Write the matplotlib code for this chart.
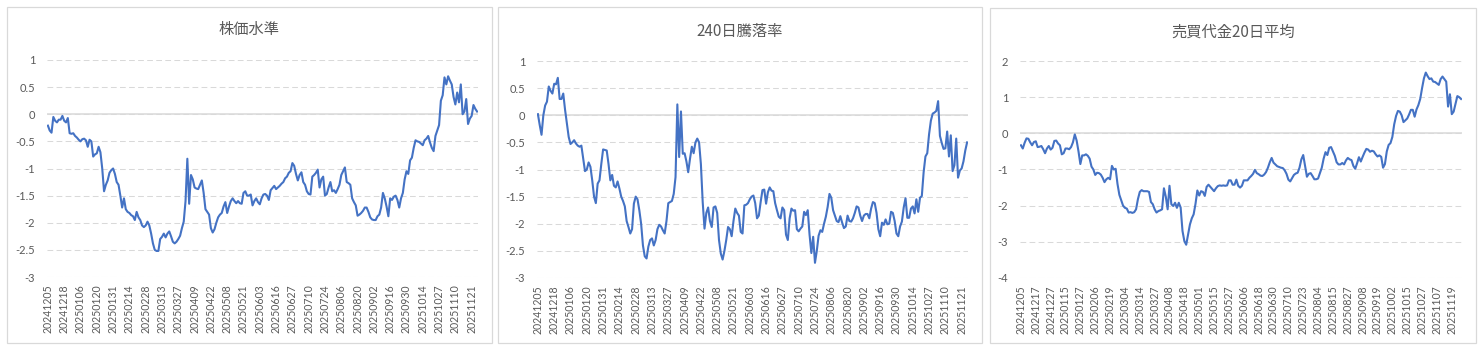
import matplotlib
matplotlib.use("Agg")
import matplotlib.pyplot as plt
from matplotlib.patches import Rectangle
from matplotlib.ticker import FuncFormatter, MultipleLocator

plt.rcParams['font.family'] = ['Lato', 'Noto Sans CJK JP', 'DejaVu Sans']
plt.rcParams['axes.unicode_minus'] = False

# daily values, 20241205 .. 20251127 (238 trading days)
price_level = [
    -0.21, -0.30, -0.34, -0.05, -0.12, -0.15, -0.10, -0.10, -0.03, -0.12,
    -0.15, -0.07, -0.35, -0.36, -0.35, -0.40, -0.43, -0.47, -0.50, -0.46,
    -0.45, -0.48, -0.60, -0.47, -0.50, -0.78, -0.74, -0.72, -0.60, -0.70,
    -1.00, -1.42, -1.30, -1.22, -1.08, -1.03, -1.00, -1.10, -1.25, -1.30,
    -1.50, -1.72, -1.55, -1.75, -1.80, -1.82, -1.86, -1.88, -1.95, -1.80,
    -1.90, -1.95, -2.05, -2.08, -2.05, -1.98, -2.05, -2.20, -2.38, -2.50,
    -2.52, -2.52, -2.30, -2.26, -2.20, -2.27, -2.20, -2.16, -2.25, -2.35,
    -2.38, -2.35, -2.30, -2.24, -2.10, -1.98, -1.60, -0.82, -1.65, -1.12,
    -1.20, -1.35, -1.37, -1.38, -1.30, -1.22, -1.45, -1.75, -1.80, -1.85,
    -2.10, -2.18, -2.12, -2.00, -1.90, -1.85, -1.82, -1.70, -1.62, -1.82,
    -1.70, -1.60, -1.55, -1.60, -1.64, -1.60, -1.64, -1.65, -1.45, -1.42,
    -1.50, -1.50, -1.48, -1.68, -1.60, -1.55, -1.62, -1.66, -1.55, -1.48,
    -1.47, -1.50, -1.58, -1.40, -1.36, -1.32, -1.38, -1.35, -1.32, -1.28,
    -1.25, -1.18, -1.15, -1.08, -1.05, -0.90, -0.95, -1.10, -1.22, -1.12,
    -1.07, -1.25, -1.30, -1.42, -1.47, -1.48, -1.15, -1.12, -1.08, -1.02,
    -1.35, -1.20, -1.15, -1.50, -1.47, -1.35, -1.25, -1.42, -1.40, -1.45,
    -1.38, -1.30, -1.12, -1.05, -0.98, -1.25, -1.27, -1.30, -1.55, -1.62,
    -1.68, -1.87, -1.85, -1.82, -1.78, -1.72, -1.72, -1.80, -1.90, -1.94,
    -1.95, -1.95, -1.88, -1.85, -1.72, -1.45, -1.55, -1.70, -1.88, -1.55,
    -1.58, -1.52, -1.50, -1.58, -1.72, -1.55, -1.45, -1.20, -1.05, -1.10,
    -0.85, -0.80, -0.62, -0.48, -0.50, -0.51, -0.54, -0.57, -0.48, -0.45,
    -0.40, -0.52, -0.62, -0.68, -0.40, -0.30, -0.20, 0.25, 0.35, 0.68,
    0.55, 0.70, 0.62, 0.55, 0.32, 0.18, 0.40, 0.22, 0.55, 0.00,
    0.05, 0.28, -0.18, -0.08, -0.03, 0.17, 0.10, 0.05,
]

adv_dec_240 = [
    0.02, -0.18, -0.36, 0.00, 0.18, 0.25, 0.53, 0.45, 0.40, 0.58,
    0.57, 0.69, 0.30, 0.30, 0.40, 0.10, -0.15, -0.40, -0.53, -0.50,
    -0.46, -0.52, -0.56, -0.58, -0.56, -0.80, -1.03, -1.00, -0.87, -0.95,
    -1.20, -1.50, -1.62, -1.26, -1.20, -0.90, -0.63, -0.64, -0.65, -0.90,
    -1.20, -1.10, -1.30, -1.33, -1.22, -1.35, -1.50, -1.58, -1.68, -1.95,
    -2.06, -2.18, -2.10, -1.63, -1.50, -1.55, -1.75, -2.00, -2.40, -2.60,
    -2.64, -2.42, -2.30, -2.27, -2.40, -2.30, -2.10, -2.02, -2.05, -2.12,
    -2.18, -1.95, -1.62, -1.60, -1.58, -1.45, -1.14, 0.20, -0.77, 0.07,
    -0.71, -0.70, -0.85, -1.05, -0.80, -0.58, -0.70, -0.50, -0.43, -0.50,
    -0.90, -1.60, -2.09, -1.80, -1.70, -1.95, -2.06, -1.70, -1.68, -1.80,
    -2.30, -2.55, -2.66, -2.50, -2.30, -2.06, -2.10, -2.23, -1.95, -1.72,
    -1.80, -1.85, -2.15, -2.18, -1.66, -1.65, -1.62, -1.55, -1.50, -1.48,
    -1.62, -1.90, -1.85, -1.60, -1.38, -1.37, -1.63, -1.42, -1.33, -1.39,
    -1.40, -1.62, -1.75, -1.87, -1.90, -1.70, -1.75, -2.20, -2.30, -1.90,
    -1.72, -1.76, -1.75, -2.10, -2.14, -2.09, -2.05, -1.78, -1.84, -1.75,
    -2.20, -2.54, -2.24, -2.72, -2.50, -2.22, -2.12, -2.15, -2.00, -1.87,
    -1.69, -1.45, -1.52, -1.75, -1.85, -1.95, -1.97, -1.86, -1.98, -2.08,
    -2.05, -1.85, -1.95, -1.96, -1.90, -1.80, -1.68, -1.70, -1.85, -1.95,
    -1.85, -1.82, -1.82, -1.90, -1.72, -1.60, -1.62, -1.80, -2.10, -2.23,
    -1.98, -2.02, -1.92, -2.01, -2.00, -1.78, -1.80, -1.95, -2.18, -2.23,
    -2.05, -1.96, -1.70, -1.53, -1.89, -1.89, -1.72, -1.68, -1.81, -1.55,
    -1.78, -1.52, -1.49, -1.05, -0.76, -0.70, -0.35, -0.10, 0.03, 0.05,
    0.08, 0.26, -0.38, -0.51, -0.62, -0.61, -0.30, -0.76, -0.37, -1.03,
    -0.92, -0.43, -1.15, -1.02, -0.98, -0.85, -0.65, -0.50,
]

turnover_20d = [
    -0.33, -0.42, -0.26, -0.14, -0.15, -0.25, -0.33, -0.24, -0.22, -0.38,
    -0.37, -0.35, -0.44, -0.55, -0.42, -0.35, -0.45, -0.40, -0.21, -0.20,
    -0.28, -0.33, -0.58, -0.55, -0.42, -0.42, -0.44, -0.38, -0.25, -0.03,
    -0.20, -0.50, -0.85, -0.61, -0.61, -0.58, -0.62, -0.70, -0.92, -1.00,
    -1.15, -1.09, -1.10, -1.14, -1.23, -1.35, -1.27, -1.23, -1.27, -0.90,
    -1.00, -0.98, -1.40, -1.70, -1.85, -2.00, -2.06, -2.08, -2.19, -2.18,
    -2.20, -2.18, -2.10, -1.82, -1.62, -1.57, -1.60, -1.60, -1.60, -1.62,
    -1.90, -1.96, -2.10, -2.19, -2.15, -2.13, -2.10, -1.52, -1.75, -2.10,
    -1.45, -1.96, -2.01, -1.92, -2.06, -1.92, -2.05, -2.70, -2.98, -3.08,
    -2.80, -2.52, -2.35, -2.24, -1.95, -1.58, -1.72, -1.60, -1.62, -1.73,
    -1.48, -1.42, -1.48, -1.54, -1.60, -1.52, -1.46, -1.44, -1.45, -1.44,
    -1.45, -1.44, -1.30, -1.30, -1.42, -1.42, -1.28, -1.45, -1.50, -1.45,
    -1.30, -1.30, -1.30, -1.23, -1.18, -1.12, -1.01, -1.10, -1.13, -1.17,
    -1.18, -1.14, -1.07, -0.95, -0.80, -0.68, -0.81, -0.86, -0.91, -0.93,
    -0.95, -0.96, -1.02, -1.12, -1.28, -1.33, -1.24, -1.15, -1.11, -1.09,
    -0.95, -0.72, -0.60, -0.90, -1.20, -1.12, -1.10, -1.18, -1.27, -1.27,
    -1.25, -1.10, -0.95, -0.70, -0.52, -0.60, -0.40, -0.38, -0.50, -0.62,
    -0.80, -0.86, -0.86, -0.82, -0.86, -0.75, -0.68, -0.72, -0.74, -0.90,
    -0.98, -0.83, -0.66, -0.78, -0.65, -0.53, -0.43, -0.45, -0.51, -0.48,
    -0.50, -0.58, -0.64, -0.61, -0.65, -0.95, -0.85, -0.50, -0.32, -0.27,
    -0.10, 0.25, 0.48, 0.62, 0.60, 0.50, 0.31, 0.36, 0.41, 0.52,
    0.65, 0.65, 0.46, 0.66, 0.78, 0.95, 1.25, 1.52, 1.68, 1.58,
    1.50, 1.52, 1.43, 1.42, 1.38, 1.34, 1.50, 1.57, 1.50, 1.43,
    0.74, 1.08, 0.53, 0.60, 0.82, 1.03, 1.00, 0.95,
]

labels_9 = [
    "20241205", "20241218", "20250106", "20250120", "20250131", "20250214",
    "20250228", "20250313", "20250327", "20250409", "20250422", "20250508",
    "20250521", "20250603", "20250616", "20250627", "20250710", "20250724",
    "20250806", "20250820", "20250902", "20250916", "20250930", "20251014",
    "20251027", "20251110", "20251121",
]

labels_8 = [
    "20241205", "20241217", "20241227", "20250115", "20250127", "20250206",
    "20250219", "20250304", "20250314", "20250327", "20250408", "20250418",
    "20250501", "20250515", "20250527", "20250606", "20250618", "20250630",
    "20250710", "20250723", "20250804", "20250815", "20250827", "20250908",
    "20250919", "20251002", "20251015", "20251027", "20251107", "20251119",
]

titles = ["株価水準", "240日騰落率", "売買代金20日平均"]

LINE = "#4472C4"
GRID = "#D9D9D9"
TEXT = "#595959"

W, H = 1482, 350
fig = plt.figure(figsize=(W / 100, H / 100), dpi=100)


def px(x0, y0, x1, y1):
    # pixel box -> figure fraction [left, bottom, width, height]
    return [x0 / W, 1 - y1 / H, (x1 - x0) / W, (y1 - y0) / H]


def draw_panel(box, area, title, title_y, values, labels, step, ylo, yhi, ystep):
    fig.patches.append(Rectangle((box[0], box[1]), box[2], box[3],
                                 transform=fig.transFigure, fill=False,
                                 edgecolor=GRID, lw=0.9))
    fig.text(box[0] + box[2] / 2, 1 - title_y / H, title, ha="center",
             va="center", fontsize=11, color=TEXT,
             family=["Noto Sans CJK JP", "DejaVu Sans"])

    ax = fig.add_axes(area)
    n = len(values)
    ax.plot(range(n), values, color=LINE, lw=1.5, zorder=3)
    ax.set_xlim(-0.5, n - 0.5)
    ax.set_ylim(ylo, yhi)
    ax.yaxis.set_major_locator(MultipleLocator(ystep))
    ax.yaxis.set_major_formatter(FuncFormatter(lambda v, p: "%g" % round(v, 2)))
    ax.grid(axis="y", color=GRID, lw=0.75, linestyle=(0, (5.5, 3.2)))
    ax.axhline(0, color=GRID, lw=1.1, zorder=2)
    ax.set_xticks(list(range(0, n, step))[:len(labels)])
    ax.set_xticklabels(labels, rotation=90)
    for s in ax.spines.values():
        s.set_visible(False)
    ax.tick_params(axis="y", length=0, pad=8.5, labelsize=8, labelcolor=TEXT)
    ax.tick_params(axis="x", length=0, pad=5.5, labelsize=7.6, labelcolor=TEXT)
    ax.set_facecolor("none")
    return ax


draw_panel(px(7, 7, 492, 343), px(47, 60, 478, 277), titles[0], 29.5,
           price_level, labels_9, 9, -3, 1, 0.5)
draw_panel(px(498, 7, 982, 343), px(537, 61, 968, 278), titles[1], 31,
           adv_dec_240, labels_9, 9, -3, 1, 0.5)
draw_panel(px(990, 8, 1476, 343), px(1020, 61, 1462, 278), titles[2], 32,
           turnover_20d, labels_8, 8, -4, 2, 1)

fig.savefig("out.png", dpi=100, facecolor="white")
